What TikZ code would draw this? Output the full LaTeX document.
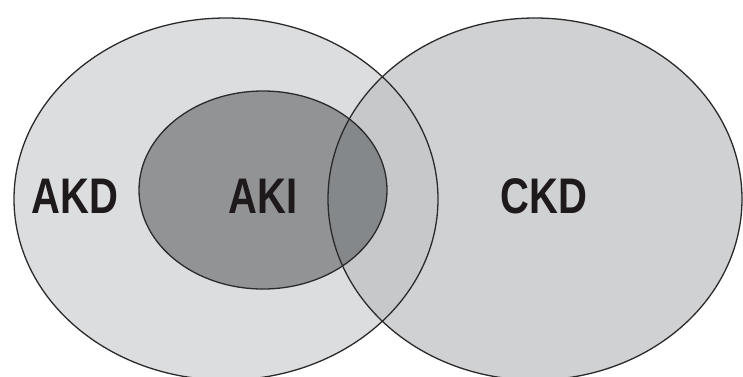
\documentclass[tikz,border=0pt]{standalone}
\usepackage{fontspec}
\newfontfamily\labelfont[FakeStretch=0.8]{Liberation Sans}
\definecolor{akdfill}{HTML}{DCDDDF}
\definecolor{ckdfill}{HTML}{D0D1D3}
\definecolor{lensfill}{HTML}{C7C8CA}
\definecolor{akifill}{HTML}{929395}
\definecolor{overlapfill}{HTML}{85888A}
\definecolor{edge}{HTML}{2A2A2A}
\definecolor{ink}{HTML}{1E1A1C}
\begin{document}
\begin{tikzpicture}[x=1pt,y=-1pt,
  ring/.style={draw=edge,line width=1.3pt},
  lbl/.style={font=\labelfont\bfseries\fontsize{50}{50}\selectfont,text=ink,inner sep=0pt}]
\useasboundingbox (0,0) rectangle (743,376);
% centres of the three sets
\coordinate (akd) at (226,199);
\coordinate (ckd) at (535,199);
\coordinate (aki) at (263,190);
\def\akdshape{(akd) ellipse [x radius=212, y radius=181]}
\def\ckdshape{(ckd) ellipse [x radius=207, y radius=181]}
\def\akishape{(aki) ellipse [x radius=124, y radius=99]}
% fills
\fill[akdfill] \akdshape;
\fill[ckdfill] \ckdshape;
\begin{scope}
  \clip \akdshape;
  \fill[lensfill] \ckdshape;
\end{scope}
\fill[akifill] \akishape;
\begin{scope}
  \clip \ckdshape;
  \fill[overlapfill] \akishape;
\end{scope}
% outlines
\draw[ring] \akdshape;
\draw[ring] \ckdshape;
\draw[ring] \akishape;
% labels
\node[lbl] (akdlabel) at (75,196) {AKD};
\node[lbl] (akilabel) at (263,196) {AKI};
\node[lbl] (ckdlabel) at (544,196) {CKD};
\end{tikzpicture}
\end{document}
